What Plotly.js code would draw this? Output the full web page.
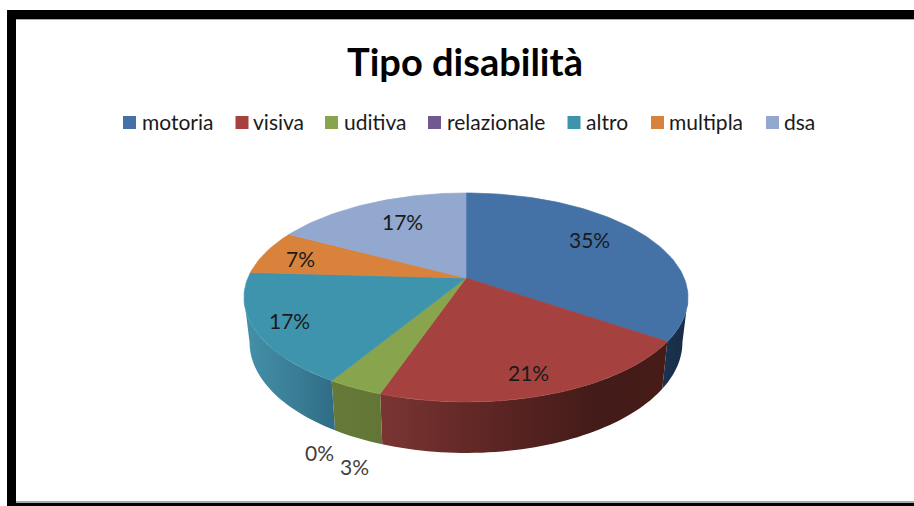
<!DOCTYPE html>
<html><head><meta charset="utf-8">
<script src="https://cdn.plot.ly/plotly-3.0.1.min.js"></script>
<style>html,body{margin:0;padding:0;background:#fff}#c{width:914px;height:506px}</style>
</head><body><div id="c"></div>
<script>
const categories = ['motoria','visiva','uditiva','relazionale','altro','multipla','dsa'];
const shares = [34.5,20.7,3.4,0,17.2,6.9,17.2];
const topColors = ['#4471a6','#a5423f','#88a44d','#71588f','#3f94ad','#d9823c','#92a8cf'];
const wallScales = [
  [[0,'#1a3350'],[1,'#182c44']],
  [[0,'#7a3533'],[0.4,'#5c2523'],[0.75,'#431b18'],[1,'#471b18']],
  [[0,'#667a38'],[1,'#627536']],
  [[0,'#71588f'],[1,'#71588f']],
  [[0,'#4590a9'],[0.6,'#397c94'],[1,'#2f6c85']],
  [[0,'#d9823c'],[1,'#d9823c']],
  [[0,'#92a8cf'],[1,'#92a8cf']]
];

// Projection of the tilted disc on the picture
const cx=466, cy=278, persp=0.1866, sx=218.1, sy=100.86;
const dropY=321.5, rimX=0.975, rimY=1.06;
function topPt(deg){
  const t=deg*Math.PI/180, u=Math.sin(t), v=Math.cos(t), w=1+persp*v;
  return [cx+sx*u/w, cy-sy*v/w];
}
function rimPt(deg){
  const p=topPt(deg);
  return [cx+(p[0]-cx)*rimX, dropY+(p[1]-cy)*rimY];
}
function arc(fn,a,b){
  const pts=[], n=Math.max(2,Math.ceil(Math.abs(b-a)/1.5));
  for(let i=0;i<=n;i++) pts.push(fn(a+(b-a)*i/n));
  return pts;
}
const total=shares.reduce((a,b)=>a+b,0);
const tangent=Math.acos(-persp)*180/Math.PI;   // where the wall meets the outline
const wallFrom=tangent, wallTo=360-tangent;

const font='Lato, "Noto Sans", sans-serif';
const keyX=[129.5,242,331.5,434.5,574,657.5,772.5];
const walls=[], tops=[], keys=[];
let start=0;
shares.forEach((n,i)=>{
  const end=start+n/total*360;
  if(n>0){
    const a=Math.max(start,wallFrom), b=Math.min(end,wallTo);
    if(b>a){
      const poly=arc(topPt,a,b).concat(arc(rimPt,b,a));
      poly.push(poly[0]);
      walls.push({x:poly.map(p=>p[0]),y:poly.map(p=>p[1]),type:'scatter',mode:'none',fill:'toself',
        fillgradient:{type:'horizontal',colorscale:wallScales[i]},showlegend:false,hoverinfo:'skip'});
    }
    const face=[[cx,cy]].concat(arc(topPt,start,end)); face.push([cx,cy]);
    tops.push({x:face.map(p=>p[0]),y:face.map(p=>p[1]),type:'scatter',mode:'lines',fill:'toself',
      line:{color:topColors[i],width:0.7},fillcolor:topColors[i],showlegend:false,hoverinfo:'skip'});
  }
  keys.push({x:[keyX[i]],y:[122.5],type:'scatter',mode:'markers',name:categories[i],
    marker:{symbol:'square',size:13,color:topColors[i]},showlegend:false,hoverinfo:'skip'});
  start=end;
});

const pct=n=>Math.round(n/total*100)+'%';
const labelAt=[[589,239],[528,372],[354,466],[319,452],[289,320],[300,258],[402,221]];
const annotations=shares.map((n,i)=>({text:pct(n),x:labelAt[i][0],y:labelAt[i][1],xref:'x',yref:'y',
  showarrow:false,font:{family:font,size:21,color:i===2||i===3?'#404040':'#1a1a1a'}}));
const keyTextX=[142,253,344,447,586,669,784];
categories.forEach((c,i)=>annotations.push({text:c,x:keyTextX[i],y:121,xref:'x',yref:'y',xanchor:'left',xshift:-2,
  showarrow:false,font:{family:font,size:21,color:'#1a1a1a'}}));

const bars=[[7,10,914,19,'#000'],[16,19,914,20,'#a8a8a8'],[7,10,16,506,'#000'],[16,501,914,503,'#a8a8a8'],[7,503,914,506,'#000']];
const frame=bars.map(r=>({type:'rect',xref:'x',yref:'y',
  x0:r[0],y0:r[1],x1:r[2],y1:r[3],fillcolor:r[4],line:{width:0},layer:'above'}));

Plotly.newPlot('c',walls.concat(tops,keys),{
  width:914,height:506,paper_bgcolor:'#fff',plot_bgcolor:'#fff',showlegend:false,
  margin:{l:0,r:0,t:0,b:0},
  xaxis:{range:[0,914],visible:false,fixedrange:true},
  yaxis:{range:[506,0],visible:false,fixedrange:true},
  title:{text:'<b>Tipo disabilità</b>',font:{family:font,size:38,color:'#000'},x:465/914,xanchor:'center',y:1-63/506,yanchor:'middle'},
  shapes:frame,annotations:annotations
},{displayModeBar:false,staticPlot:true});
</script></body></html>
